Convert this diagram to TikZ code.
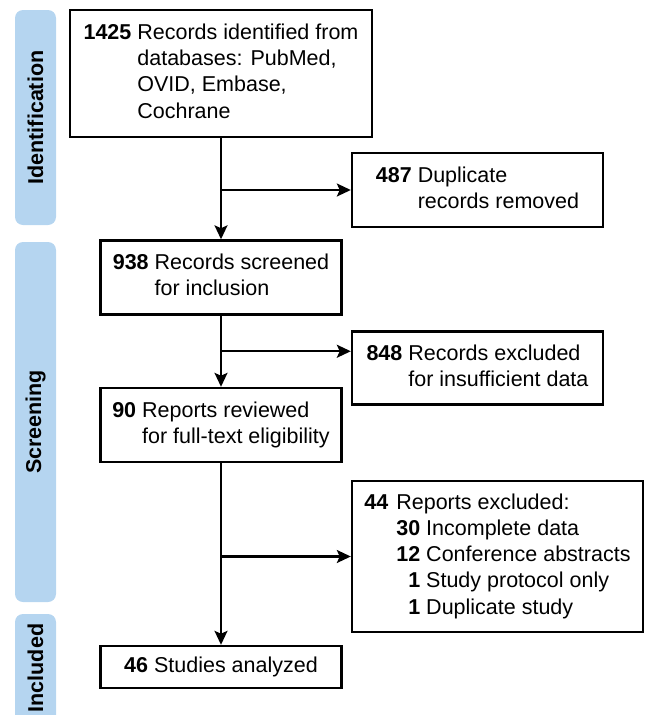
\documentclass[tikz,border=0pt]{standalone}
\usepackage{fontspec}
\setmainfont{Liberation Sans}
\usetikzlibrary{arrows.meta,calc,positioning}
\definecolor{barblue}{HTML}{B5D5F0}
\newcommand{\numline}[2]% bold count, text
{\textbf{#1} & #2}

\begin{document}
\begin{tikzpicture}[x=1pt,y=-1pt,
	box/.style={draw, line width=2.4pt, inner sep=0pt, align=left},
	stagelabel/.style={rotate=90, font=\bfseries},
	flow/.style={line width=2.2pt, -{Stealth[length=14pt,width=13pt,inset=3pt]}}]
	\path[use as bounding box, clip] (0,0) rectangle (649,715);
	\fontsize{21.5}{26.2}\selectfont
	% stage bars
	\fill[barblue, rounded corners=8pt] (15,10) rectangle (56,225);
	\fill[barblue, rounded corners=8pt] (15,242) rectangle (56,602);
	\fill[barblue, rounded corners=8pt] (15,614) rectangle (56,730);
	\node[stagelabel] (ident) at (35.5,117.5){Identification};
	\node[stagelabel] (screen) at (35.5,422){Screening};
	\node[stagelabel] (incl) at (35.5,668){Included};
	% boxes
	\node[box, minimum width=302pt, minimum height=127pt] (found) at (221,73.5){%
		\begin{tabular}{@{}l@{ }l@{}}\numline{1425}{Records identified from}\\ & databases: PubMed,\\ & OVID, Embase,\\ & Cochrane\end{tabular}};
	\node[box, minimum width=251pt, minimum height=74pt] (dupl) at (477.5,190){%
		\begin{tabular}{@{}l@{ }l@{}}\numline{487}{Duplicate}\\ & records removed\end{tabular}};
	\node[box, minimum width=241pt, minimum height=74pt] (scrn) at (221,277.5){%
		\begin{tabular}{@{}l@{ }l@{}}\numline{938}{Records screened}\\ & for inclusion\end{tabular}};
	\node[box, minimum width=251pt, minimum height=73pt] (excl) at (477.5,368){%
		\begin{tabular}{@{}l@{ }l@{}}\numline{848}{Records excluded}\\ & for insufficient data\end{tabular}};
	\node[box, minimum width=241pt, minimum height=74pt] (rvw) at (221,425){%
		\begin{tabular}{@{}l@{ }l@{}}\numline{90}{Reports reviewed}\\ & for full-text eligibility\end{tabular}};
	\node[box, minimum width=291pt, minimum height=151pt] (rept) at (497.5,556.5){%
		\begin{tabular}{@{}l@{\hspace{8pt}}r@{ }l@{}}\textbf{44} & \multicolumn{2}{@{}l@{}}{Reports excluded:}\\
		& \numline{30}{Incomplete data}\\
		& \numline{12}{Conference abstracts}\\
		& \numline{1}{Study protocol only}\\
		& \numline{1}{Duplicate study}\end{tabular}};
	\node[box, minimum width=241pt, minimum height=42pt] (anlz) at (221,667){\textbf{46} Studies analyzed};
	% connectors
	\coordinate (br1) at (found.south |- dupl.west);
	\coordinate (br2) at ($(scrn.south)!0.5!(rvw.north)$);
	\coordinate (br3) at (rvw.south |- rept.west);
	\draw[flow] (found) -- (scrn);
	\draw[flow] (br1) -- (dupl.west);
	\draw[flow] (scrn) -- (rvw);
	\draw[flow] (br2) -- (br2 -| excl.west);
	\draw[flow] (rvw) -- (anlz);
	\draw[flow] (br3) -- (rept.west);
\end{tikzpicture}
\end{document}
